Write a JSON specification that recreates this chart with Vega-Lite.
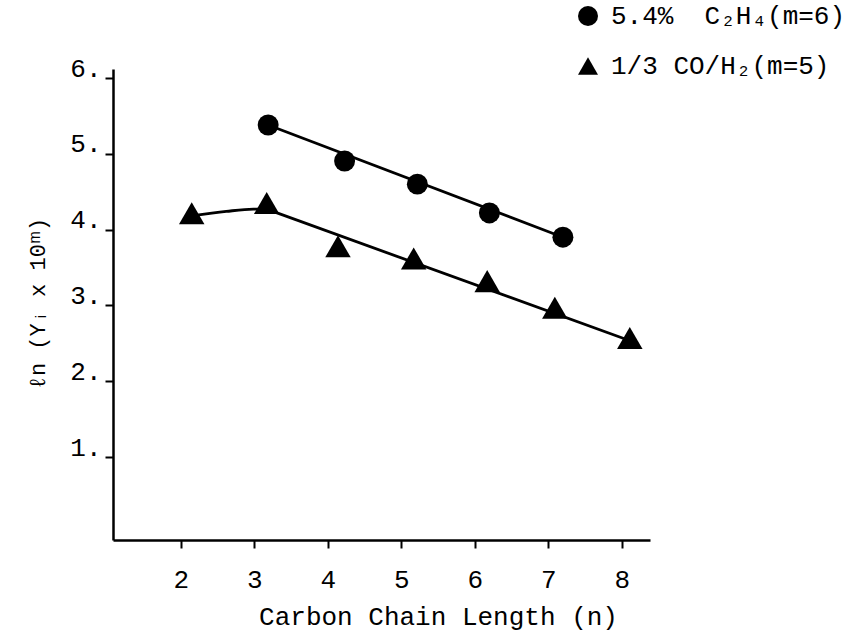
{
  "$schema": "https://vega.github.io/schema/vega-lite/v6.json",
  "width": 537,
  "height": 471,
  "autosize": {"type": "none"},
  "padding": {"left": 113, "top": 69, "right": 211, "bottom": 98},
  "background": "white",
  "config": {"view": {"stroke": null}, "font": "Liberation Mono"},
  "data": {
    "values": [
      {"kind": "pt", "series": "5.4%\u00a0 C₂H₄(m=6)", "n": 3.19, "y": 5.38},
      {"kind": "pt", "series": "5.4%\u00a0 C₂H₄(m=6)", "n": 4.23, "y": 4.905},
      {"kind": "pt", "series": "5.4%\u00a0 C₂H₄(m=6)", "n": 5.22, "y": 4.6},
      {"kind": "pt", "series": "5.4%\u00a0 C₂H₄(m=6)", "n": 6.2, "y": 4.22},
      {"kind": "pt", "series": "5.4%\u00a0 C₂H₄(m=6)", "n": 7.2, "y": 3.9},
      {"kind": "pt", "series": "1/3 CO/H₂(m=5)", "n": 2.15, "y": 4.215},
      {"kind": "pt", "series": "1/3 CO/H₂(m=5)", "n": 3.17, "y": 4.35},
      {"kind": "pt", "series": "1/3 CO/H₂(m=5)", "n": 4.14, "y": 3.78},
      {"kind": "pt", "series": "1/3 CO/H₂(m=5)", "n": 5.17, "y": 3.62},
      {"kind": "pt", "series": "1/3 CO/H₂(m=5)", "n": 6.17, "y": 3.32},
      {"kind": "pt", "series": "1/3 CO/H₂(m=5)", "n": 7.09, "y": 2.97},
      {"kind": "pt", "series": "1/3 CO/H₂(m=5)", "n": 8.11, "y": 2.57},
      {"kind": "ln", "line": "c", "ord": 1, "n": 3.19, "y": 5.38},
      {"kind": "ln", "line": "c", "ord": 2, "n": 7.2, "y": 3.9},
      {"kind": "ln", "line": "t", "ord": 1, "n": 3.17, "y": 4.27},
      {"kind": "ln", "line": "t", "ord": 2, "n": 8.15, "y": 2.52},
      {"kind": "ln", "line": "a", "ord": 1, "n": 2.15, "y": 4.18},
      {"kind": "ln", "line": "a", "ord": 2, "n": 2.62, "y": 4.24},
      {"kind": "ln", "line": "a", "ord": 3, "n": 2.99, "y": 4.27},
      {"kind": "ln", "line": "a", "ord": 4, "n": 3.17, "y": 4.27}
    ]
  },
  "encoding": {
    "x": {
      "field": "n", "type": "quantitative",
      "scale": {"domain": [1.079, 8.385], "zero": false, "nice": false},
      "axis": {
        "values": [2, 3, 4, 5, 6, 7, 8],
        "format": "d",
        "grid": false,
        "domainColor": "black", "domainWidth": 2.5,
        "tickColor": "black", "tickWidth": 2, "tickSize": 8,
        "labelFont": "Liberation Mono", "labelFontSize": 26, "labelColor": "black",
        "labelBaseline": "alphabetic", "labelPadding": 39,
        "title": "Carbon Chain Length (n)",
        "titleFont": "Liberation Mono", "titleFontSize": 26, "titleFontWeight": "normal", "titleColor": "black",
        "titleX": 325, "titleY": 84, "titleAlign": "center", "titleBaseline": "alphabetic"
      }
    },
    "y": {
      "field": "y", "type": "quantitative",
      "scale": {"domain": [-0.095, 6.119], "zero": false, "nice": false},
      "axis": {
        "values": [1, 2, 3, 4, 5, 6],
        "format": "d",
        "labelExpr": "datum.label + '.'",
        "grid": false,
        "domainColor": "black", "domainWidth": 2.5,
        "tickColor": "black", "tickWidth": 2, "tickSize": 8,
        "labelFont": "Liberation Mono", "labelFontSize": 26, "labelColor": "black",
        "labelBaseline": "alphabetic", "labelOffset": -2, "labelPadding": 4,
        "title": "ℓn (Yᵢ x 10ᵐ)",
        "titleFont": "Liberation Mono", "titleFontSize": 22, "titleFontWeight": "normal", "titleColor": "black",
        "titleX": -76, "titleY": 234, "titleAngle": 270, "titleAlign": "center", "titleBaseline": "middle"
      }
    }
  },
  "layer": [
    {
      "transform": [{"filter": "datum.kind === 'ln'"}],
      "mark": {"type": "line", "color": "black", "strokeWidth": 2.8, "interpolate": "monotone"},
      "encoding": {
        "detail": {"field": "line"},
        "order": {"field": "ord", "type": "quantitative"}
      }
    },
    {
      "transform": [{"filter": "datum.kind === 'pt' && indexof(datum.series, '5.4%') === 0"}],
      "mark": {"type": "point", "filled": true, "color": "black", "opacity": 1, "size": 440},
      "encoding": {
        "shape": {
          "field": "series", "type": "nominal",
          "scale": {"domain": ["5.4%\u00a0 C₂H₄(m=6)", "1/3 CO/H₂(m=5)"], "range": ["circle", "triangle-up"]},
          "legend": {
            "title": null, "orient": "none", "legendX": 462, "legendY": -66,
            "labelFont": "Liberation Mono", "labelFontSize": 26, "labelColor": "black", "labelLimit": 400,
            "symbolFillColor": "black", "symbolStrokeColor": "black", "symbolStrokeWidth": 0,
            "symbolSize": 400, "rowPadding": 24, "labelOffset": 10, "padding": 0
          }
        }
      }
    },
    {
      "transform": [{"filter": "datum.kind === 'pt' && indexof(datum.series, '1/3') === 0"}],
      "mark": {"type": "point", "filled": true, "color": "black", "opacity": 1, "size": 650},
      "encoding": {
        "shape": {"field": "series", "type": "nominal"}
      }
    }
  ]
}
